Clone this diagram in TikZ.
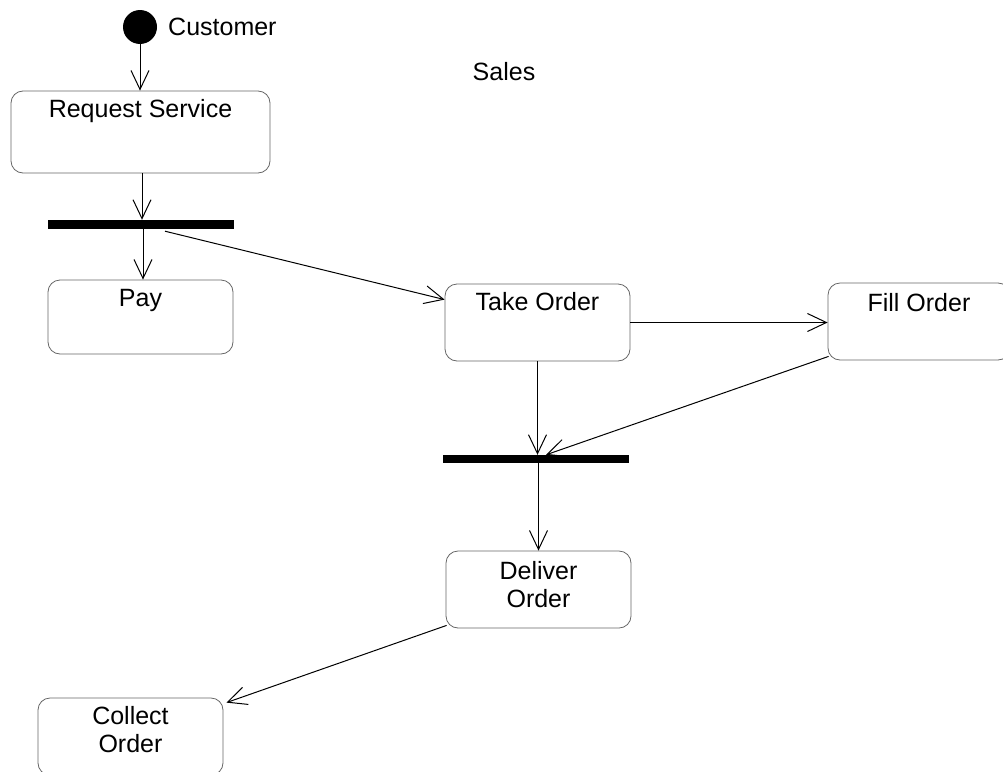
\documentclass[tikz,border=0pt]{standalone}
\usepackage{fontspec}
\setmainfont{Liberation Sans}
\usetikzlibrary{arrows.meta}
\begin{document}
\begin{tikzpicture}[x=1pt,y=-1pt,
  box/.style={draw=black!60,line width=0.8pt,rounded corners=12pt,inner sep=0pt},
  lbl/.style={font=\fontsize{25}{28}\selectfont,align=center,inner sep=0pt,anchor=north},
  bar/.style={fill=black,draw=none,inner sep=0pt,minimum width=186pt},
  arr/.style={line width=1pt,-{Straight Barb[length=19pt,width=18pt,line width=1pt]}}]
\useasboundingbox (0,0) rectangle (1003,771);
% initial state
\node[circle,fill=black,inner sep=0pt,minimum size=34pt] (init) at (140,27) {};
\node[font=\fontsize{25}{28}\selectfont,anchor=west,inner sep=0pt] (cust) at (168,27) {Customer};
\node[font=\fontsize{25}{28}\selectfont,inner sep=0pt] (sales) at (504,72) {Sales};
% boxes
\node[box,minimum width=259pt,minimum height=82pt] (rs) at (140.5,132) {};
\node[lbl] (rst) at ([yshift=-9pt]rs.north) {Request Service};
\node[bar,minimum height=9pt] (bar1) at (141,224.5) {};
\node[box,minimum width=185pt,minimum height=74pt] (pay) at (140.5,317) {};
\node[lbl] (payt) at ([yshift=-9pt]pay.north) {Pay};
\node[box,minimum width=185pt,minimum height=77pt] (take) at (537.5,322.5) {};
\node[lbl] (taket) at ([yshift=-9pt]take.north) {Take Order};
\node[box,minimum width=182pt,minimum height=77pt] (fill) at (919,321.5) {};
\node[lbl] (fillt) at ([yshift=-11pt]fill.north) {Fill Order};
\node[bar,minimum height=8pt] (bar2) at (536,459) {};
\node[box,minimum width=185pt,minimum height=77pt] (deliver) at (538.5,589.5) {};
\node[lbl] (delivert) at ([yshift=-11pt]deliver.north) {Deliver\\Order};
\node[box,minimum width=185pt,minimum height=77pt] (collect) at (130.5,736.5) {};
\node[lbl] (collectt) at ([yshift=-9pt]collect.north) {Collect\\Order};
% connectors
\draw[arr] (init.south) -- (rs.north -| init.south);
\draw[arr] ([xshift=2pt]rs.south -| init.south) -- ([xshift=2pt]bar1.north -| init.south);
\draw[arr] ([xshift=3pt]bar1.south -| init.south) -- ([xshift=3pt]pay.north -| init.south);
\draw[arr] ([xshift=24pt,yshift=-2pt]bar1.south) -- ([yshift=-16pt]take.north west);
\draw[arr] (take.east) -- (take.east -| fill.west);
\draw[arr] (take.south) -- (bar2.north -| take.south);
\draw[arr] ([xshift=1pt,yshift=4pt]fill.south west) -- ([xshift=10pt]bar2.north);
\draw[arr] (deliver.north |- bar2.south) -- (deliver.north);
\draw[arr] ([xshift=1pt,yshift=3pt]deliver.south west) -- ([xshift=3pt,yshift=-5pt]collect.north east);
\end{tikzpicture}
\end{document}
